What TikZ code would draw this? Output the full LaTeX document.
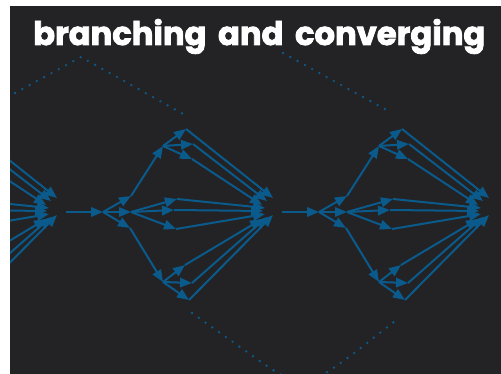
\documentclass[tikz,border=0pt]{standalone}
\usepackage{fontspec}
\newfontfamily\titlefont{Poppins}[FakeBold=2.5]
\usetikzlibrary{arrows.meta}
\definecolor{bg}{RGB}{35,35,37}
\definecolor{arr}{RGB}{10,90,140}
\tikzset{
  edge/.style={draw=arr, line width=2pt, -{Triangle[length=12pt,width=9.5pt]}},
  dots/.style={draw=arr, line width=2.6pt, line cap=round, dash pattern=on 0pt off 8.3pt},
}
\begin{document}
\begin{tikzpicture}[x=1pt,y=-1pt]
\useasboundingbox (0,0) rectangle (501,374);
\fill[white] (0,0) rectangle (501,374);
\fill[bg] (10,6) rectangle (501,374);
\begin{scope}
\clip (10,6) rectangle (501,374);
\foreach \s in {0,1,2} {
  \begin{scope}[shift={({(\s-1)*216},0)}]
    \coordinate (N-\s) at (103,212);
    \coordinate (U-\s) at (131,196);
    \coordinate (M-\s) at (131,212);
    \coordinate (L-\s) at (130,228);
    \coordinate (UB-\s) at (163,146);
    \coordinate (LB-\s) at (163,282);
    \coordinate (M1-\s) at (177,199);
    \coordinate (M2-\s) at (174,210);
    \coordinate (M3-\s) at (176,229);
    \coordinate (A1-\s) at (186,129);
    \coordinate (A2-\s) at (193,144);
    \coordinate (A3-\s) at (192,159);
    \coordinate (B1-\s) at (185,265);
    \coordinate (B2-\s) at (192,283);
    \coordinate (B3-\s) at (189,300);
    \coordinate (CA1-\s) at (273,198);
    \coordinate (CA2-\s) at (267,201);
    \coordinate (CA3-\s) at (262,205);
    \coordinate (CM1-\s) at (265,208);
    \coordinate (CM2-\s) at (263,211);
    \coordinate (CM3-\s) at (265,214);
    \coordinate (CB1-\s) at (262,219);
    \coordinate (CB2-\s) at (267,217);
    \coordinate (CB3-\s) at (273,215);
    \coordinate (O-\s) at (282,212);
    \draw[edge] (N-\s) -- (U-\s);
    \draw[edge] (N-\s) -- (M-\s);
    \draw[edge] (N-\s) -- (L-\s);
    \draw[edge] (U-\s) -- (UB-\s);
    \draw[edge] (L-\s) -- (LB-\s);
    \draw[edge] (M-\s) -- (M1-\s);
    \draw[edge] (M-\s) -- (M2-\s);
    \draw[edge] (M-\s) -- (M3-\s);
    \draw[edge] (UB-\s) -- (A1-\s);
    \draw[edge] (UB-\s) -- (A2-\s);
    \draw[edge] (UB-\s) -- (A3-\s);
    \draw[edge] (LB-\s) -- (B1-\s);
    \draw[edge] (LB-\s) -- (B2-\s);
    \draw[edge] (LB-\s) -- (B3-\s);
    \draw[edge] (A1-\s) -- (CA1-\s);
    \draw[edge] (A2-\s) -- (CA2-\s);
    \draw[edge] (A3-\s) -- (CA3-\s);
    \draw[edge] (M1-\s) -- (CM1-\s);
    \draw[edge] (M2-\s) -- (CM2-\s);
    \draw[edge] (M3-\s) -- (CM3-\s);
    \draw[edge] (B1-\s) -- (CB1-\s);
    \draw[edge] (B2-\s) -- (CB2-\s);
    \draw[edge] (B3-\s) -- (CB3-\s);
  \end{scope}
}
\draw[edge] (O-0) -- (N-1);
\draw[edge] (O-1) -- (N-2);
\draw[dots] (15,93) -- (81,57) -- (185,115);
\draw[dots] (283,53) -- (392,113);
\draw[dots] (192,313) -- (247,352) .. controls (302,391) .. (353,354) -- (399,318);
\end{scope}
\node[anchor=base west, inner sep=0pt, text=white] (title) at (33,45)
  {\resizebox{452pt}{26pt}{\titlefont\bfseries branching\hspace{0.15em} and\hspace{0.15em} converging}};
\end{tikzpicture}
\end{document}
